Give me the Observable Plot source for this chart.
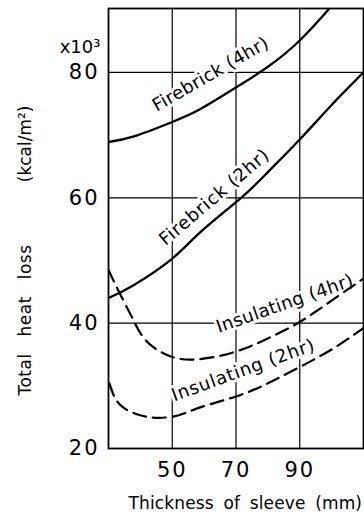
<!DOCTYPE html>
<html>
<head>
<meta charset="utf-8">
<script src="https://cdn.jsdelivr.net/npm/d3@7"></script>
<script src="https://cdn.jsdelivr.net/npm/@observablehq/plot@0.6"></script>
<style>
  html, body { margin: 0; padding: 0; background: #fff; }
  #chart svg { display: block; }
</style>
</head>
<body>
<div id="chart"></div>
<script>
// ---- data ----
const xTicks = [50, 70, 90];
const yTicks = [20, 40, 60, 80];
const xGrid = [50, 70, 90];
const yGrid = [40, 60, 80];

const firebrick4X = [30, 38, 50, 59, 70, 80, 90, 100];
const firebrick4Y = [68.9, 69.8, 72.1, 74.2, 77.6, 80.9, 85.1, 90.6];

const firebrick2X = [30, 38, 50, 59, 71.6, 80, 90, 100, 110];
const firebrick2Y = [44.0, 46.1, 50.3, 54.6, 60.0, 64.1, 69.3, 74.8, 80.0];

const insulating4X = [30, 33, 37, 40, 44, 50, 57, 66, 74, 81, 88, 94, 102, 110];
const insulating4Y = [48.5, 45.3, 41.3, 38.4, 36.2, 34.6, 34.2, 34.9, 36.2, 37.8, 39.6, 41.5, 44.3, 47.1];

const insulating2X = [30.3, 32, 35, 40, 45.5, 52, 59, 70, 80, 90, 100, 110];
const insulating2Y = [30.4, 28.1, 26.4, 25.3, 24.9, 25.3, 26.6, 28.3, 30.4, 33.0, 35.8, 39.2];

const curveLabels = ["Firebrick (4hr)", "Firebrick (2hr)", "Insulating (4hr)", "Insulating (2hr)"];
const labelX = [62.0, 63.2, 85.3, 72.3];
const labelY = [79.7, 60.1, 43.1, 32.5];
const labelAngle = [-30, -40.4, -19.3, -20];

const xTitle = "Thickness of sleeve (mm)";
const yTitleA = "Total heat loss";
const yTitleB = "(kcal/m²)";
const yUnit = "x10³";

// ---- build tables ----
const toRows = (xs, ys) => xs.map((x, i) => ({x, y: ys[i]}));
const fb4 = toRows(firebrick4X, firebrick4Y);
const fb2 = toRows(firebrick2X, firebrick2Y);
const in4 = toRows(insulating4X, insulating4Y);
const in2 = toRows(insulating2X, insulating2Y);
const labels = curveLabels.map((t, i) => ({t, x: labelX[i], y: labelY[i], a: labelAngle[i]}));

const chart = Plot.plot({
  width: 364,
  height: 520,
  marginLeft: 108,
  marginRight: 1,
  marginTop: 8,
  marginBottom: 72,
  style: {fontFamily: "DejaVu Sans", color: "#000", background: "#fff"},
  x: {domain: [30, 110], label: null},
  y: {domain: [20, 90.2], label: null},
  marks: [
    Plot.ruleX(xGrid, {stroke: "#000", strokeWidth: 1.2}),
    Plot.ruleY(yGrid, {stroke: "#000", strokeWidth: 1.2}),
    Plot.text(labels, {
      x: "x", y: "y", text: "t", rotate: "a",
      fontSize: 18, fill: "#000", stroke: "#fff", strokeWidth: 6,
      textAnchor: "middle", lineAnchor: "middle"
    }),
    Plot.line(fb4, {x: "x", y: "y", curve: "natural", stroke: "#000", strokeWidth: 2.3, clip: true}),
    Plot.line(fb2, {x: "x", y: "y", curve: "natural", stroke: "#000", strokeWidth: 2.3, clip: true}),
    Plot.line(in4, {x: "x", y: "y", curve: "natural", stroke: "#000", strokeWidth: 2.2, strokeDasharray: "13,7", clip: true}),
    Plot.line(in2, {x: "x", y: "y", curve: "natural", stroke: "#000", strokeWidth: 2.2, strokeDasharray: "13,7", clip: true}),
    Plot.frame({stroke: "#000", strokeWidth: 1.8}),
    Plot.axisY(yTicks, {
      tickSize: 0, tickPadding: 9, fontSize: 21, label: null, fill: "#000"
    }),
    Plot.axisX(xTicks, {
      tickSize: 0, tickPadding: 14, fontSize: 21, label: null, fill: "#000"
    }),
    Plot.text([xTitle], {
      frameAnchor: "bottom-left", dx: 20, dy: 60, textAnchor: "start",
      fontSize: 17, fill: "#000"
    }),
    Plot.text([yTitleA], {
      frameAnchor: "left", y: () => 40.5, dx: -83, rotate: -90, textAnchor: "middle",
      fontSize: 17, fill: "#000"
    }),
    Plot.text([yTitleB], {
      frameAnchor: "left", y: () => 68.6, dx: -83, rotate: -90, textAnchor: "middle",
      fontSize: 17, fill: "#000"
    }),
    Plot.text([yUnit], {
      frameAnchor: "top-left", dx: -8, dy: 32, textAnchor: "end",
      fontSize: 18, fill: "#000"
    })
  ]
});

// text spacing tweaks (style only)
const spacing = {
  "Firebrick (4hr)": "0.3px",
  "Firebrick (2hr)": "0.8px",
  "Insulating (4hr)": "0.35px",
  "Insulating (2hr)": "0.8px"
};
d3.select(chart).selectAll("text").each(function() {
  const t = this.textContent;
  if (spacing[t]) this.style.letterSpacing = spacing[t];
  else if (t === xTitle) { this.style.wordSpacing = "4px"; this.style.letterSpacing = "0.15px"; }
  else if (t === yTitleA) { this.style.wordSpacing = "11px"; this.style.letterSpacing = "0.5px"; }
  else if (/^\d+$/.test(t)) this.style.letterSpacing = "2px";
});

document.getElementById("chart").appendChild(chart);
</script>
</body>
</html>
